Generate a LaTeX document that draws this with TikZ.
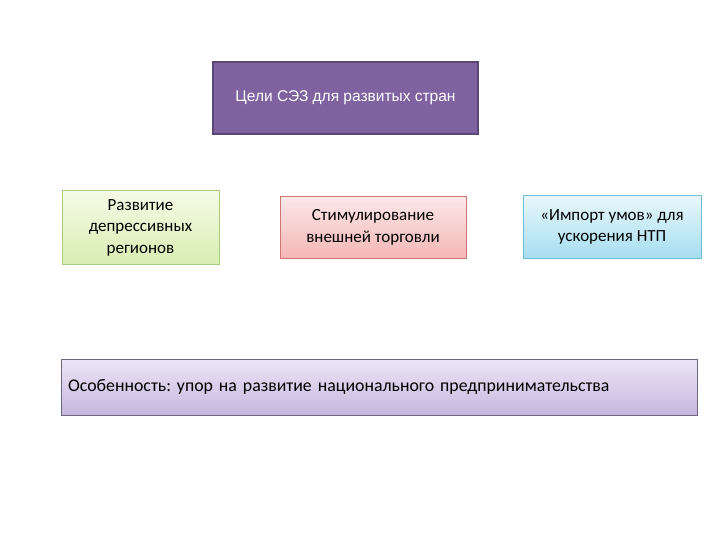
\documentclass[tikz,border=0pt]{standalone}
\usepackage{fontspec}
\setmainfont{Carlito}
\newfontfamily\arialf{Liberation Sans}
\frenchspacing
\definecolor{topfill}{HTML}{7F62A0}
\definecolor{topdraw}{HTML}{5A4775}
\definecolor{gtop}{HTML}{F6FAE6}
\definecolor{gbot}{HTML}{D8EEB2}
\definecolor{gdraw}{HTML}{A9CC7C}
\definecolor{rtop}{HTML}{FCE8E8}
\definecolor{rbot}{HTML}{F4B6B6}
\definecolor{rdraw}{HTML}{D07474}
\definecolor{btop}{HTML}{E8F7FC}
\definecolor{bbot}{HTML}{A6DEF0}
\definecolor{bdraw}{HTML}{70BCD2}
\definecolor{ptop}{HTML}{ECE6F6}
\definecolor{pbot}{HTML}{C6B6DE}
\definecolor{pdraw}{HTML}{6C6680}
\tikzset{
  x=1pt, y=-1pt,
  box/.style={rectangle, inner sep=0pt, line width=1pt, align=center, font=\fontsize{17}{21.5}\selectfont\frenchspacing, text=black},
}
\begin{document}
\begin{tikzpicture}
\useasboundingbox (0,0) rectangle (720,540);
\node[box, draw=topdraw, fill=topfill, line width=1.5pt, minimum width=265pt, minimum height=72pt, text=white, font=\arialf\fontsize{15.5}{18}\selectfont] (goals) at (345.5,98) {Цели СЭЗ для развитых стран};
\node[box, draw=gdraw, top color=gtop, bottom color=gbot, minimum width=157pt, minimum height=73pt] (dep) at (140.5,227.5) {\raisebox{-2pt}{\parbox{150pt}{\centering Развитие\\депрессивных\\регионов}}};
\node[box, draw=rdraw, top color=rtop, bottom color=rbot, minimum width=186pt, minimum height=61pt] (trade) at (373,227.5) {\raisebox{-2.5pt}{\parbox{180pt}{\centering Стимулирование\\внешней торговли}}};
\node[box, draw=bdraw, top color=btop, bottom color=bbot, minimum width=178pt, minimum height=62pt] (ntp) at (612,227) {\raisebox{-1.5pt}{\parbox{172pt}{\centering «Импорт умов» для\\ускорения НТП}}};
\node[box, draw=pdraw, top color=ptop, bottom color=pbot, minimum width=636pt, minimum height=56pt, text width=622pt, align=left, font=\fontsize{17.8}{21}\selectfont\frenchspacing] (feat) at (379,387) {Особенность: упор на развитие национального предпринимательства};
\end{tikzpicture}
\end{document}
